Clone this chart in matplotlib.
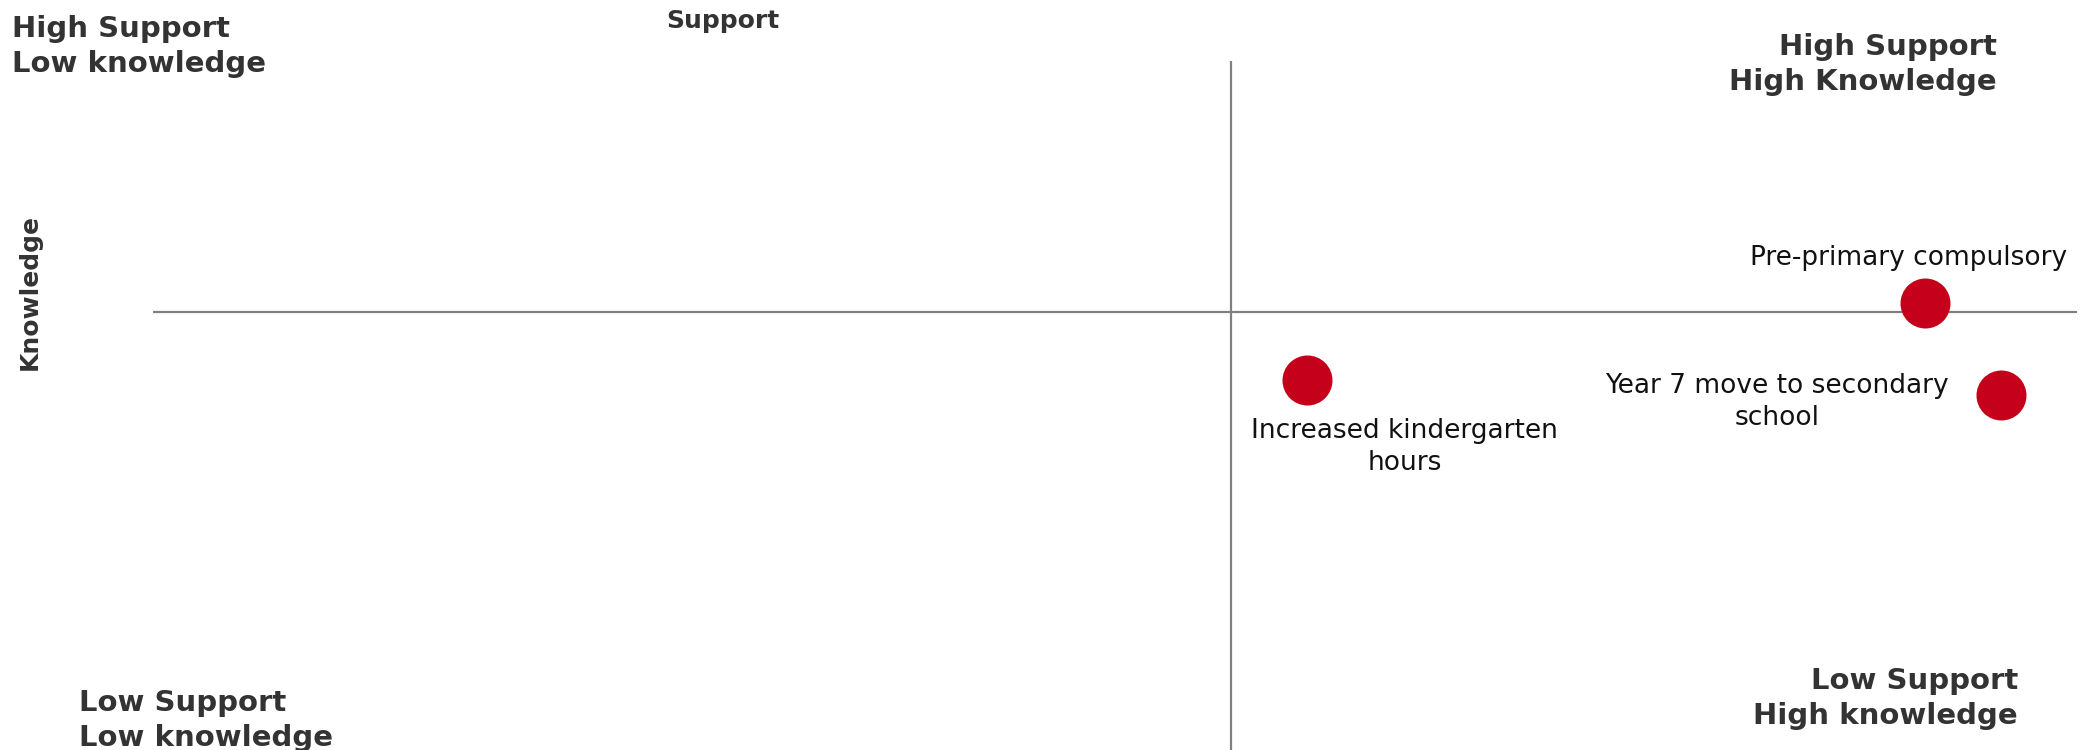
import matplotlib.pyplot as plt

# policy positions on the support / knowledge grid
policies = ['Pre-primary compulsory', 'Year 7 move to secondary\nschool',
            'Increased kindergarten\nhours']
support = [3.28, 3.64, 0.36]
knowledge = [0.07, -0.67, -0.55]
# label offsets (points) and alignment per policy
offsets = [(-12, 27, 'baseline'), (-161, -5, 'center'), (70, -27, 'top')]

quadrants = [('High Support\nLow knowledge', 12, 37, 'left'),
             ('High Support\nHigh Knowledge', 1997, 55, 'right'),
             ('Low Support\nLow knowledge', 79, 711, 'left'),
             ('Low Support\nHigh knowledge', 2018, 689, 'right')]

W, H = 2093, 750
fig = plt.figure(figsize=(W / 100, H / 100), dpi=100)
ax = fig.add_axes([153 / W, 0, (2077 - 153) / W, (750 - 61) / H])
ax.set_xlim(-5.1, 4)
ax.set_ylim(-3.5, 2)
ax.axis('off')

ax.axhline(0, color='#808080', lw=1.6, zorder=1)
ax.axvline(0, color='#808080', lw=1.6, zorder=1)
ax.scatter(support, knowledge, s=1296, color='#c5001a', zorder=3, linewidths=0)

for name, x, y, (dx, dy, va) in zip(policies, support, knowledge, offsets):
    ax.annotate(name, (x, y), xytext=(dx, dy), textcoords='offset points',
                ha='center', va=va, fontsize=19, color='#111111',
                family='DejaVu Sans', multialignment='center', linespacing=1.3)

qfont = dict(family='DejaVu Sans', weight='bold', fontsize=21, color='#333333')
for label, x, y, ha in quadrants:
    for i, line in enumerate(label.split('\n')):
        fig.text(x / W, 1 - (y + i * 35) / H, line, ha=ha, va='baseline', **qfont)

fig.text(723 / W, 1 - 28 / H, 'Support', ha='center', va='baseline',
         family='DejaVu Sans', weight='bold', fontsize=18, color='#333333')
fig.text(30 / W, 1 - 292 / H, 'Knowledge', ha='center', va='center', rotation=90,
         family='DejaVu Sans', weight='bold', fontsize=18, color='#333333')

plt.savefig('out.png', dpi=100)
